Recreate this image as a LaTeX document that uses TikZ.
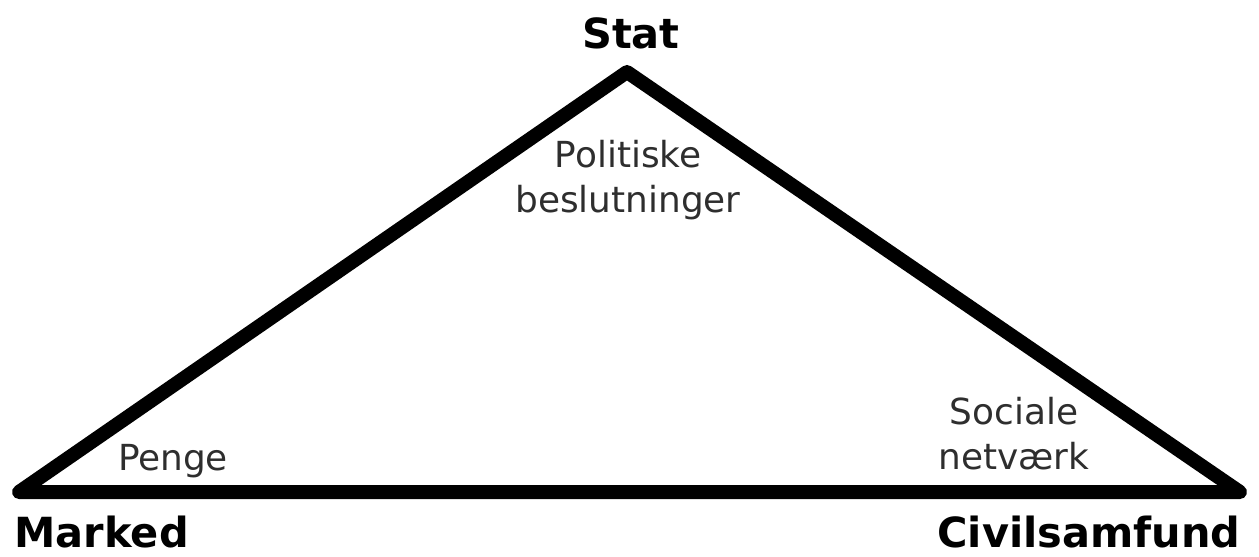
\documentclass[tikz,border=0pt]{standalone}
\usepackage{fontspec}
\setmainfont{DejaVu Sans}
\usepackage{tikz}
\definecolor{ink}{HTML}{000000}
\definecolor{ink2}{HTML}{2E2E2E}

\begin{document}
\begin{tikzpicture}[x=0.01cm,y=-0.01cm,
    corner/.style={font=\fontsize{11.8}{14}\selectfont\bfseries,text=ink,inner sep=0pt},
    inner/.style={font=\fontsize{10.2}{12.8}\selectfont,text=ink2,inner sep=0pt,align=center}]
  \useasboundingbox (0,0) rectangle (1259,556);
  % corners of the triangle
  \coordinate (top) at (627,72);
  \coordinate (left) at (19,492);
  \coordinate (right) at (1240,492);
  \draw[ink,line width=0.14cm,line join=round,line cap=round] (top) -- (left) -- (right) -- cycle;
  % corner labels
  \node[corner,anchor=base] (stat) at (631,48) {Stat};
  \node[corner,anchor=base west] (marked) at (14,547) {Marked};
  \node[corner,anchor=base east] (civil) at (1241,547) {Civilsamfund};
  % what binds each corner (base = last line)
  \node[inner,anchor=base] (polit) at (628,212) {Politiske\\beslutninger};
  \node[inner,anchor=base] (penge) at (173,470) {Penge};
  \node[inner,anchor=base] (social) at (1014,469) {Sociale\\netværk};
\end{tikzpicture}
\end{document}
